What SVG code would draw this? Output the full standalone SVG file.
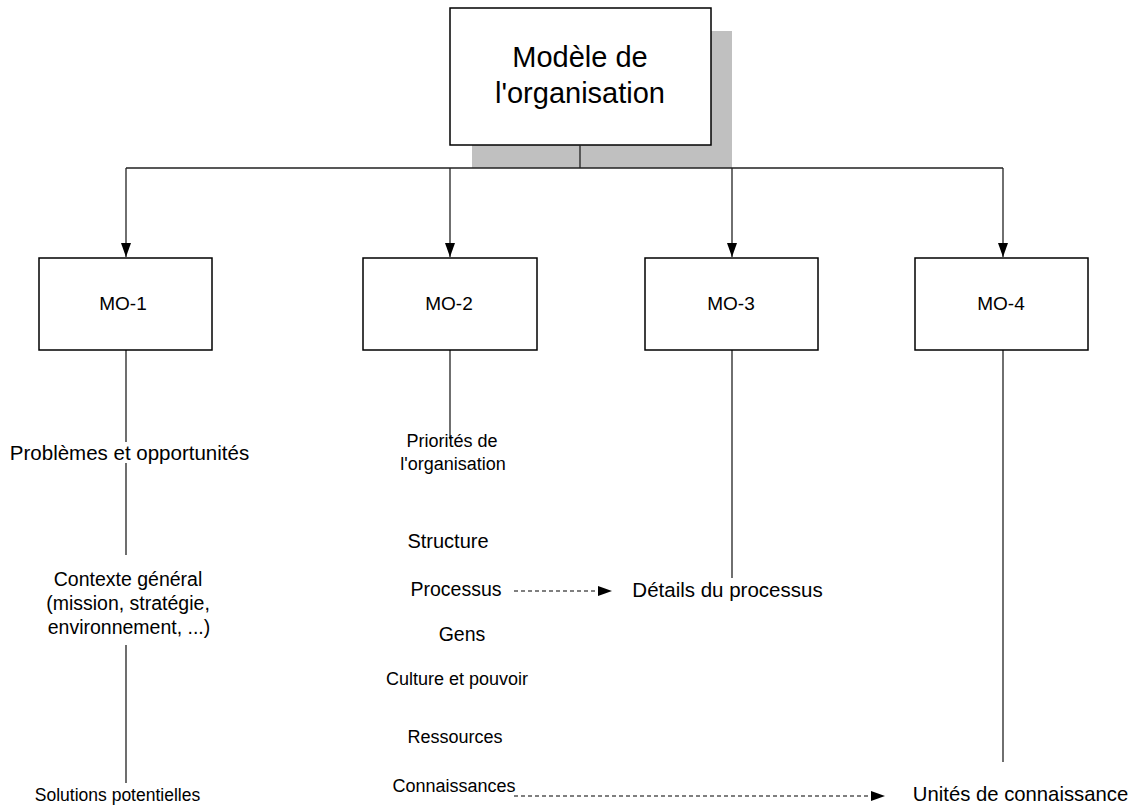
<svg xmlns="http://www.w3.org/2000/svg" width="1135" height="808" viewBox="0 0 1135 808">
  <style>
    .box { fill: #fff; stroke: #000; stroke-width: 1.5; }
    .shadow { fill: #c0c0c0; }
    .wire { fill: none; stroke: #222; stroke-width: 1.3; }
    .dash { fill: none; stroke: #000; stroke-width: 1.2; stroke-dasharray: 4 3; }
    text { font-family: "Liberation Sans", Arial, sans-serif; fill: #000; text-anchor: middle; font-size: 18px; }
    .big { font-size: 29px; }
    .mo { font-size: 19px; }
  </style>
  <defs>
    <marker id="tri" markerWidth="14" markerHeight="10" refX="14" refY="5" orient="auto" markerUnits="userSpaceOnUse">
      <path d="M0,0 L14,5 L0,10 Z" fill="#000"/>
    </marker>
  </defs>

  <rect width="1135" height="808" fill="#fff"/>

  <!-- root node with drop shadow -->
  <g id="root">
    <rect class="shadow" x="472" y="31" width="260" height="137"/>
    <rect class="box" x="450" y="8" width="261" height="137"/>
    <text class="big" x="580" y="67">Modèle de</text>
    <text class="big" x="580" y="103">l'organisation</text>
  </g>

  <!-- connectors -->
  <g id="connectors">
    <path class="wire" d="M580,145 V168 M126,168 H1003"/>
    <path class="wire" d="M126,168 V257" marker-end="url(#tri)"/>
    <path class="wire" d="M450,168 V257" marker-end="url(#tri)"/>
    <path class="wire" d="M732,168 V257" marker-end="url(#tri)"/>
    <path class="wire" d="M1003,168 V257" marker-end="url(#tri)"/>
    <!-- branch lines under each sub-model -->
    <path class="wire" d="M126,350 V442 M126,463 V555 M126,645 V783"/>
    <path class="wire" d="M450,350 V439"/>
    <path class="wire" d="M732,350 V578"/>
    <path class="wire" d="M1003,350 V762"/>
    <!-- cross references -->
    <path class="dash" d="M514,591 H612" marker-end="url(#tri)"/>
    <path class="dash" d="M514,796 H885" marker-end="url(#tri)"/>
  </g>

  <g id="mo1">
    <rect class="box" x="39" y="258" width="173" height="92"/>
    <text class="mo" x="123" y="310">MO-1</text>
  </g>
  <g id="mo2">
    <rect class="box" x="363" y="258" width="174" height="92"/>
    <text class="mo" x="449" y="310">MO-2</text>
  </g>
  <g id="mo3">
    <rect class="box" x="645" y="258" width="173" height="92"/>
    <text class="mo" x="731" y="310">MO-3</text>
  </g>
  <g id="mo4">
    <rect class="box" x="915" y="258" width="173" height="92"/>
    <text class="mo" x="1001" y="310">MO-4</text>
  </g>

  <!-- MO-1 topics -->
  <g id="mo1-topics">
    <text x="129.5" y="460" style="font-size:20.5px">Problèmes et opportunités</text>
    <text x="128" y="586" style="font-size:19.5px">Contexte général</text>
    <text x="128" y="610" style="font-size:19.5px">(mission, stratégie,</text>
    <text x="129" y="634" style="font-size:19.5px">environnement, ...)</text>
    <text x="117.5" y="801" style="font-size:17.5px">Solutions potentielles</text>
  </g>

  <!-- MO-2 topics -->
  <g id="mo2-topics">
    <text x="452" y="447">Priorités de</text>
    <text x="453" y="470">l'organisation</text>
    <text x="448" y="548" style="font-size:20px">Structure</text>
    <text x="456" y="596" style="font-size:19.5px">Processus</text>
    <text x="462" y="641" style="font-size:19.5px">Gens</text>
    <text x="457" y="685">Culture et pouvoir</text>
    <text x="455" y="743">Ressources</text>
    <text x="454" y="792">Connaissances</text>
  </g>

  <!-- MO-3 topics -->
  <g id="mo3-topics">
    <text x="727.5" y="597" style="font-size:20.5px">Détails du processus</text>
  </g>

  <!-- MO-4 topics -->
  <g id="mo4-topics">
    <text x="1020.5" y="801" style="font-size:20.3px">Unités de connaissance</text>
  </g>
</svg>
